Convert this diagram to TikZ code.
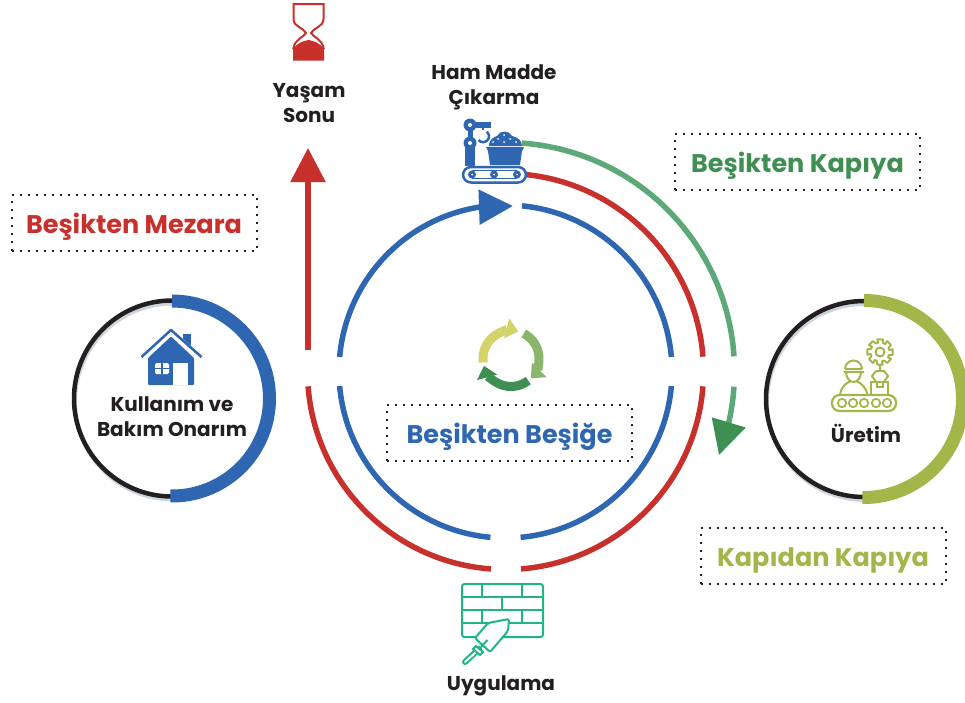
\documentclass[tikz,border=0pt]{standalone}
\usepackage{fontspec}
\usepackage{xcolor}
\setmainfont{Poppins}[BoldFont={Poppins Bold}]
\usetikzlibrary{arrows.meta}
\definecolor{cred}{HTML}{C8302C}
\definecolor{cblue}{HTML}{2F66B1}
\definecolor{cgreen}{HTML}{5CA877}
\definecolor{cdark}{HTML}{3F8F52}
\definecolor{colive}{HTML}{A2B64A}
\definecolor{cmint}{HTML}{1FB587}
\definecolor{cink}{HTML}{231F20}
\definecolor{cshade}{HTML}{CDD5DC}
\definecolor{cyellow}{HTML}{D3D36A}
\definecolor{cleaf}{HTML}{8AB56A}
\tikzset{
  ringarc/.style={line width=5.5pt},
  blacking/.style={line width=4.5pt,cink},
  shadering/.style={line width=4pt,cshade},
  bighead/.style={-{Triangle[length=34pt,width=34pt]}},
  cyclearc/.style={line width=9pt,-{Triangle[length=12pt,width=20pt]}},
  title/.style={font=\bfseries\fontsize{20}{25}\selectfont,text=cink,align=center,inner sep=0pt},
  tagbox/.style={draw=cink,line width=2pt,dash pattern=on 2pt off 6pt,minimum width=245pt,minimum height=56pt,
    inner sep=0pt,text height=20pt,text depth=0pt,font=\bfseries\fontsize{25.5}{28}\selectfont},
}
\begin{document}
\begin{tikzpicture}[x=1pt,y=1pt,yscale=-1]
    \useasboundingbox (0,0) rectangle (965,702);
    \coordinate (ctr) at (505.5,371.5);

    % big rings
    \coordinate (blueTip) at (513,206);
    \draw[ringarc,cblue,bighead] (ctr) ++(-175:166.5) arc (-175:-99.2:166.5) -- (blueTip);
    \draw[ringarc,cblue] (ctr) ++(-84.3:166.5) arc (-84.3:-5:166.5);
    \draw[ringarc,cblue] (ctr) ++(5:166.5) arc (5:84.8:166.5);
    \draw[ringarc,cblue] (ctr) ++(95.2:166.5) arc (95.2:175:166.5);

    \draw[ringarc,cred] (ctr) ++(-84.3:198) arc (-84.3:-4.3:198);
    \draw[ringarc,cred] (ctr) ++(4.3:198) arc (4.3:85.5:198);
    \draw[ringarc,cred] (ctr) ++(94.2:198) arc (94.2:175.7:198);

    \coordinate (greenTip) at (719,455);
    \draw[ringarc,cgreen] (ctr) ++(-85.9:229) arc (-85.9:-3.8:229);
    \draw[ringarc,cgreen,-{Triangle[length=34pt,width=34pt,color=cdark]}] (ctr) ++(3.8:229) arc (3.8:12.8:229) -- (greenTip);

    % arrow to end of life
    \coordinate (lifeStart) at (308,350);
    \coordinate (lifeTip) at (308,148);
    \draw[ringarc,cred,bighead] (lifeStart) -- (lifeTip);

    % use phase ring
    \coordinate (useC) at (172,398.5);
    \draw[shadering] ([shift={(1,3)}]useC) ++(90:98) arc (90:270:98);
    \draw[blacking] (useC) ++(90:98) arc (90:270:98);
    \draw[line width=13pt,cblue] (useC) ++(-90:97.5) arc (-90:91:97.5);

    % production ring
    \coordinate (makeC) at (864,399);
    \draw[shadering] ([shift={(1,3)}]makeC) ++(90:98) arc (90:270:98);
    \draw[blacking] (makeC) ++(90:98) arc (90:270:98);
    \draw[line width=13pt,colive] (makeC) ++(-90:98.5) arc (-90:91:98.5);

    % cycle icon
    \coordinate (cycC) at (511,358.5);
    \draw[cyclearc,cyellow] (cycC) ++(172:28) arc (172:285:28);
    \draw[cyclearc,cleaf] (cycC) ++(-63:28) arc (-63:45:28);
    \draw[cyclearc,cdark] (cycC) ++(52:28) arc (52:165:28);

    % labels
    \node[title] (yasam) at (309,103) {Yaşam\\Sonu};
    \node[title] (hammadde) at (494,87) {Ham Madde\\Çıkarma};
    \node[title] (kullanim) at (172,417) {Kullanım ve\\Bakım Onarım};
    \node[title] (uretim) at (866,433) {Üretim};
    \node[title] (uygulama) at (501,686) {Uygulama};

    \node[tagbox,text=cred] (mezara) at (134,223) {Beşikten Mezara};
    \node[tagbox,text=cdark] (kapiya) at (797.5,162) {Beşikten Kapıya};
    \node[tagbox,text=cblue] (besige) at (509.5,433) {Beşikten Beşiğe};
    \node[tagbox,text=colive] (kapidan) at (823,556) {Kapıdan Kapıya};

    % hourglass
    \draw[cred,line width=2pt] (293.5,4) -- (323.5,4) -- (323.5,19) .. controls (323.5,27) and (313,28) .. (311,33)
      .. controls (313,37) and (322,39) .. (323.5,48) -- (293.5,48) .. controls (295,39) and (304,37) .. (306,33)
      .. controls (304,28) and (293.5,27) .. (293.5,19) -- cycle;
    \fill[cred] (293,60.5) -- (293,49) .. controls (297,43) and (303,41) .. (308.5,40) .. controls (314,41) and (320,43) .. (324,49) -- (324,60.5) -- cycle;

    % house
    \fill[cblue] (183,334) rectangle (191,346);
    \draw[white,line width=7pt] (171,333) -- (201.5,360);
    \draw[cblue,line width=2.5pt,line join=round] (141.5,357) -- (171,330) -- (201.5,357);
    \fill[cblue,rounded corners=1pt] (148,385) -- (148,358) -- (171,336.5) -- (194,358) -- (194,385) -- cycle;
    \fill[white,rounded corners=1.5pt] (155,363) rectangle (169,374);
    \draw[cblue,line width=1.5pt] (162,363) -- (162,374) (155,368.5) -- (169,368.5);
    \fill[white] (173,363) rectangle (188,385);

    % mining robot
    \fill[cblue] (465,146) rectangle (475,166);
    \draw[cblue,line width=5pt] (470,125) -- (470,143);
    \draw[cblue,line width=6pt] (470,125) -- (491,125);
    \draw[cblue,line width=2.5pt] (483,125) -- (483,130);
    \draw[cblue,line width=2.5pt] (478.5,140) arc (140:-50:6);
    \fill[cblue] (470,125) circle (6.5) (470,143) circle (6.5);
    \fill[white] (470,125) circle (2) (470,143) circle (2);
    \fill[cblue] (489,146) .. controls (489,139) and (494,137) .. (497,136) .. controls (500,130) and (509,130) .. (512,136)
      .. controls (517,137) and (522,140) .. (522,146) -- cycle;
    \foreach \dotx/\doty in {498/139,504/135,510/139,516/142,493/142,504/142}
      \fill[white] (\dotx,\doty) circle (1);
    \fill[cblue] (486,147) -- (524,147) -- (522,151) -- (520,165) -- (490,165) -- (488,151) -- cycle;
    \draw[cblue,line width=2.5pt,fill=white,rounded corners=8pt] (463,167) rectangle (526,182.5);
    \draw[cblue,line width=1.5pt] (472,178.5) -- (517,178.5) (472,170.5) -- (517,170.5);
    \foreach \wx in {472,494,517} {
      \fill[cblue] (\wx,174.5) circle (4);
      \fill[white] (\wx,174.5) circle (1);
    }

    % wall and trowel
    \draw[cmint,line width=2pt,rounded corners=2.5pt] (462,584) rectangle (543,637);
    \draw[cmint,line width=2pt] (462,597) -- (543,597) (462,610) -- (543,610) (462,623) -- (543,623)
      (482,584) -- (482,597) (522,584) -- (522,597) (502,597) -- (502,610) (482,610) -- (482,623) (522,610) -- (522,623);
    \draw[cmint,line width=2pt,fill=white,line join=round,rounded corners=2pt] (509,619) -- (488,623) -- (475,638) -- (490,652) -- (508,631) -- cycle;
    \draw[cmint,line width=2pt] (487.5,640) -- (481,647);
    \draw[cmint,line width=6pt,line cap=round] (479,649) -- (465,662);
    \draw[white,line width=2pt,line cap=round] (476,652) -- (465,662);
    \draw[cmint,line width=2pt,fill=white] (476,646) -- (483,652) -- (480,655) -- (473,649) -- cycle;

    % gear, gripper and worker
    \begin{scope}[shift={(880,352)}]
      \draw[colive,line width=2pt,line join=round] (-12:13) \foreach \a in {0,45,...,315} { -- (\a-12:13) -- (\a+12:13) -- (\a+19:9.5) -- (\a+33:9.5) } -- cycle;
      \draw[colive,line width=2pt] (0,0) circle (4.5);
    \end{scope}
    \draw[colive,line width=2pt,line join=round] (880,365) -- (880,371) (876,371) -- (884,371) -- (888,376) -- (884,382) (876,371) -- (872,376) -- (876,382);
    \draw[colive,line width=2pt] (871,382) rectangle (888,395);
    \draw[colive,line width=1.5pt] (877,382) -- (877,387) -- (883,387) -- (883,382);
    \draw[colive,line width=2pt] (845,369) arc (-180:0:8.5) (845,369) -- (862,369) (843.5,372) -- (864,372);
    \draw[colive,line width=2pt] (846,372) .. controls (846,378) and (850,382) .. (853.5,382) .. controls (857,382) and (861,378) .. (861,372);
    \draw[colive,line width=2pt] (840,395) .. controls (841,387) and (846,383) .. (850,381.5) (867.5,395) .. controls (866,387) and (861,383) .. (857,381.5);
    \draw[colive,line width=2.2pt,rounded corners=7.5pt] (832,395) rectangle (896,411);
    \foreach \wx in {842,853,864,876,887}
      \draw[colive,line width=1.8pt] (\wx,403) circle (4.2);
\end{tikzpicture}
\end{document}
